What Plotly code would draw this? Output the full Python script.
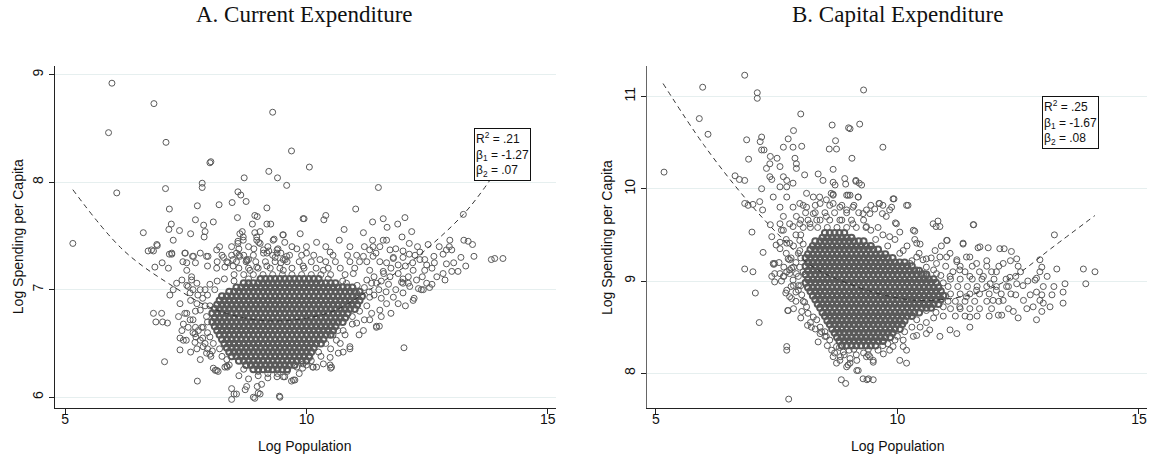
import plotly.graph_objects as go

# Panel A: scattered municipalities (log population, log current spending per capita)
obs_a = [
    (5.97, 8.92), (6.84, 8.73), (5.90, 8.46), (7.09, 8.37), (8.00, 8.18), (8.02, 8.19),
    (9.30, 8.65), (6.07, 7.90), (5.16, 7.43), (7.08, 7.94), (7.84, 7.99), (7.84, 7.95),
    (8.71, 8.04), (9.22, 8.10), (9.40, 8.04), (9.59, 7.97), (9.69, 8.29), (10.06, 8.14),
    (11.49, 7.95), (11.02, 7.75), (7.16, 7.75), (7.74, 7.78), (8.19, 7.79), (8.46, 7.81),
    (8.75, 7.82), (8.58, 7.91), (8.64, 7.88), (9.18, 7.76), (8.57, 7.67), (7.70, 7.65),
    (8.07, 7.63), (7.20, 7.61), (7.15, 7.56), (6.62, 7.53), (7.87, 7.60), (7.90, 7.54),
    (7.88, 7.49), (7.37, 7.55), (7.60, 7.52), (7.24, 7.46), (8.93, 7.69), (8.98, 7.68),
    (8.88, 7.61), (8.93, 7.53), (9.04, 7.54), (8.67, 7.54), (8.69, 7.49), (8.58, 7.45),
    (8.58, 7.43), (8.97, 7.46), (9.01, 7.44), (9.33, 7.47), (9.51, 7.51), (9.55, 7.44),
    (9.18, 7.61), (9.26, 7.61), (8.91, 7.38), (6.72, 7.36), (6.83, 7.36), (6.91, 7.41),
    (7.01, 7.25), (6.86, 7.21), (7.14, 7.20), (7.49, 7.34), (7.64, 7.31), (7.70, 7.25),
    (7.44, 7.26), (7.16, 7.33), (7.21, 7.33), (7.96, 7.31), (7.95, 7.22), (8.28, 7.30),
    (8.37, 7.25), (8.60, 7.38), (8.60, 7.32), (8.77, 7.27), (9.11, 7.37), (9.22, 7.36),
    (9.41, 7.38), (9.47, 7.34), (9.56, 7.28), (9.47, 7.25), (9.35, 7.30),
    (9.93, 7.66), (9.95, 7.66), (10.36, 7.65), (10.40, 7.69), (10.78, 7.56), (9.87, 7.52),
    (10.21, 7.44), (10.49, 7.35), (10.68, 7.46), (11.18, 7.53), (11.37, 7.63), (11.59, 7.66),
    (11.67, 7.58), (11.89, 7.61), (12.04, 7.67), (11.98, 7.49), (12.18, 7.54), (12.13, 7.43),
    (11.66, 7.46), (11.37, 7.46), (11.38, 7.40), (11.04, 7.32), (11.18, 7.31), (11.31, 7.37),
    (11.44, 7.34), (12.52, 7.42), (12.35, 7.35), (13.25, 7.70), (12.97, 7.46), (12.96, 7.40),
    (13.01, 7.37), (13.26, 7.46), (13.35, 7.45), (13.44, 7.42), (13.47, 7.31), (13.83, 7.28),
    (13.90, 7.29), (14.07, 7.29), (12.64, 7.31), (12.83, 7.33), (12.90, 7.37), (12.13, 7.33),
    (12.25, 7.32), (12.00, 7.30),
    (12.87, 7.09), (12.83, 7.15), (13.01, 7.17), (13.14, 7.17), (12.23, 6.92), (12.02, 6.46),
    (11.90, 6.87), (12.38, 7.00), (12.49, 7.06), (12.45, 7.18), (12.49, 7.23), (12.28, 7.09),
    (12.32, 7.01), (12.14, 7.03), (11.97, 7.07), (11.45, 6.66), (11.51, 6.66), (11.09, 6.58),
    (10.90, 6.45), (10.76, 6.42), (10.66, 6.41), (10.49, 6.30), (10.50, 6.27), (10.21, 6.28),
    (10.13, 6.28), (9.92, 6.27), (9.76, 6.16), (9.69, 6.15), (9.55, 6.19), (9.45, 6.00),
    (8.45, 5.98), (8.50, 6.03), (8.45, 6.08), (8.76, 6.10), (8.73, 6.07), (8.93, 5.99),
    (9.04, 6.03), (8.98, 6.10), (9.07, 6.12), (7.74, 6.15), (7.06, 6.33), (7.80, 6.35),
    (8.02, 6.38), (8.00, 6.40), (8.11, 6.25), (8.17, 6.24), (8.31, 6.28), (8.36, 6.28),
    (6.83, 6.78), (7.00, 6.78), (6.88, 6.70), (7.02, 6.70), (7.12, 6.69), (7.38, 6.44),
    (7.51, 6.53), (7.42, 6.62), (7.45, 6.68), (7.35, 6.75), (7.52, 6.78), (7.69, 6.51),
    (7.71, 6.56), (7.76, 6.62), (7.83, 6.65), (7.73, 6.45), (7.17, 6.95), (7.24, 7.00),
    (7.31, 7.06), (7.42, 7.09), (7.55, 7.03), (7.62, 7.09),
    (7.38, 6.87), (7.48, 6.78), (7.59, 6.72), (7.38, 6.55), (7.45, 6.53), (7.69, 6.59),
    (7.80, 6.53), (7.86, 6.47), (7.93, 6.41), (8.07, 6.27), (8.14, 6.25), (8.35, 6.29),
    (8.55, 6.03), (8.90, 6.00), (9.00, 6.04), (9.44, 6.01),
    (6.79, 7.37), (7.52, 7.25), (7.66, 7.31), (7.80, 7.34), (8.14, 7.20), (8.31, 7.21),
    (8.48, 7.28), (8.62, 7.31), (8.80, 7.28), (8.97, 7.21), (9.18, 7.34), (9.39, 7.34),
    (9.52, 7.28), (7.52, 7.18), (7.62, 7.12), (7.73, 7.06), (7.80, 7.00), (7.52, 7.04),
    (7.59, 6.97), (7.73, 6.87), (7.80, 6.81), (7.93, 6.75), (7.86, 6.65), (8.00, 6.56),
    (8.07, 6.50), (6.90, 7.42), (7.21, 7.34), (7.48, 7.34), (7.93, 7.31), (8.14, 7.37),
    (8.62, 7.52), (8.69, 7.46), (8.97, 7.49), (9.04, 7.43), (9.31, 7.46), (9.52, 7.51),
    (11.59, 7.46), (11.52, 7.40), (11.73, 7.37),
    (8.55, 7.34), (8.76, 7.28), (9.11, 7.34), (9.39, 7.37), (9.59, 7.31), (9.80, 7.38),
    (10.00, 7.34), (10.28, 7.28), (9.18, 7.22), (9.52, 7.18), (9.93, 7.22), (10.35, 7.18),
    (8.83, 7.18), (8.48, 7.22),
    (11.04, 6.69), (11.18, 6.62), (11.31, 6.72), (11.45, 6.65), (11.52, 6.81), (11.66, 6.87),
    (10.76, 6.62), (10.62, 6.53), (10.90, 6.47), (10.49, 6.37), (10.35, 6.31), (10.52, 6.28),
    (10.14, 6.28), (10.07, 6.37), (9.93, 6.31), (9.73, 6.16), (9.52, 6.19), (9.39, 6.19),
    (11.25, 7.26), (11.38, 7.31), (11.52, 7.26), (11.66, 7.25), (11.80, 7.29), (11.90, 7.23),
    (11.31, 7.18), (11.59, 7.17), (11.73, 7.12), (11.25, 7.09), (11.45, 7.06), (10.97, 7.15),
    (10.83, 7.06), (11.04, 6.97), (11.31, 6.93),
    (12.00, 7.06), (12.11, 7.12), (12.21, 7.18), (12.11, 7.06), (12.00, 6.97), (12.21, 6.90),
    (12.42, 7.00),
    (8.50, 7.14), (8.70, 7.14), (8.90, 7.14), (9.10, 7.14), (9.30, 7.14), (9.50, 7.14),
    (9.70, 7.14), (9.90, 7.14), (10.10, 7.14), (10.30, 7.14), (10.50, 7.14), (10.80, 7.14),
    (8.60, 7.20), (8.80, 7.20), (9.00, 7.20), (9.25, 7.20), (9.45, 7.20), (9.70, 7.20),
    (9.95, 7.20), (10.20, 7.20), (10.45, 7.20), (10.70, 7.20), (11.00, 7.20),
    (11.60, 7.15), (11.75, 7.20), (11.90, 7.15), (12.05, 7.22), (11.70, 7.05), (11.85, 7.00),
    (12.00, 7.10), (12.20, 7.25), (12.35, 7.28), (11.80, 7.30), (12.60, 7.20), (12.70, 7.12),
    (12.55, 7.02),
    (7.60, 6.90), (7.70, 6.80), (7.90, 6.85), (7.95, 6.70), (7.85, 6.55), (7.95, 6.45),
    (7.65, 6.60), (7.90, 7.00), (7.75, 6.95),
    (8.60, 6.20), (8.80, 6.17), (9.00, 6.20), (9.20, 6.18), (9.40, 6.22), (9.60, 6.24),
    (9.80, 6.28), (8.40, 6.30), (10.00, 6.30), (10.30, 6.38), (10.50, 6.45),
    (11.10, 6.80), (11.25, 6.85), (11.35, 6.78), (11.20, 6.72), (10.95, 6.68), (10.80, 6.58),
    (10.70, 6.50), (11.40, 6.95), (11.55, 6.92),
    (8.15, 7.26), (8.35, 7.26), (8.55, 7.26), (8.75, 7.26), (8.95, 7.26), (9.15, 7.26),
    (9.35, 7.26), (9.60, 7.26), (9.85, 7.26), (10.10, 7.26), (10.40, 7.26), (10.60, 7.26),
    (10.90, 7.26), (11.10, 7.26), (8.25, 7.32), (8.45, 7.32), (8.70, 7.32), (8.90, 7.32),
    (9.30, 7.32), (9.65, 7.32), (9.90, 7.32), (10.15, 7.32), (10.55, 7.32), (10.85, 7.32),
    (8.20, 7.40), (8.45, 7.40), (8.80, 7.40), (9.20, 7.40), (9.70, 7.40), (10.00, 7.40),
    (10.40, 7.40), (10.90, 7.40), (11.20, 7.40),
    (11.85, 7.38), (12.00, 7.36), (12.30, 7.40), (12.45, 7.28), (12.65, 7.25), (12.75, 7.40),
    (13.05, 7.25), (13.20, 7.30), (13.30, 7.22), (12.90, 7.24), (12.60, 7.05), (12.40, 7.12),
    (11.65, 6.98), (11.80, 6.93), (12.05, 6.85), (11.55, 6.75), (11.75, 6.78),
    (7.65, 6.72), (7.70, 6.65), (7.85, 6.92), (7.95, 6.95), (8.00, 7.05), (8.10, 7.00),
    (8.15, 7.08), (8.30, 7.10), (7.95, 6.60), (8.00, 6.85), (7.90, 6.50), (8.05, 6.43),
    (8.20, 6.45), (8.25, 6.38), (8.35, 6.35), (7.60, 6.42), (7.55, 6.65), (7.65, 7.00),
    (9.20, 6.22), (9.00, 6.24), (8.70, 6.26), (9.85, 6.22), (10.10, 6.34), (10.25, 6.42),
    (10.40, 6.50), (10.55, 6.58), (10.65, 6.62), (10.75, 6.70), (10.95, 6.75),
    (11.20, 7.02), (11.35, 7.06), (11.50, 7.00), (11.30, 6.98), (11.15, 6.94), (11.40, 7.12),
    (11.55, 7.08), (8.50, 7.08), (8.80, 7.10), (10.45, 7.10), (10.75, 7.08), (11.05, 7.04),
]

# Panel A: the solid centre of the cloud, one list of log population per spending row
core_a_y = [6.26, 6.30, 6.34, 6.38, 6.42, 6.46, 6.50, 6.54, 6.58, 6.62, 6.66,
            6.70, 6.74, 6.78, 6.82, 6.86, 6.90, 6.94, 6.98, 7.02, 7.06, 7.10]
core_a_x = [
    [8.9, 9.0, 9.1, 9.2, 9.3, 9.4, 9.5, 9.6],
    [8.75, 8.85, 8.95, 9.05, 9.15, 9.25, 9.35, 9.45, 9.55, 9.65, 9.75],
    [8.6, 8.7, 8.8, 8.9, 9.0, 9.1, 9.2, 9.3, 9.4, 9.5, 9.6, 9.7, 9.8, 9.9, 10.0],
    [8.45, 8.55, 8.65, 8.75, 8.85, 8.95, 9.05, 9.15, 9.25, 9.35, 9.45, 9.55, 9.65, 9.75,
     9.85, 9.95, 10.05],
    [8.4, 8.5, 8.6, 8.7, 8.8, 8.9, 9.0, 9.1, 9.2, 9.3, 9.4, 9.5, 9.6, 9.7, 9.8, 9.9, 10.0,
     10.1],
    [8.35, 8.45, 8.55, 8.65, 8.75, 8.85, 8.95, 9.05, 9.15, 9.25, 9.35, 9.45, 9.55, 9.65,
     9.75, 9.85, 9.95, 10.05, 10.15],
    [8.3, 8.4, 8.5, 8.6, 8.7, 8.8, 8.9, 9.0, 9.1, 9.2, 9.3, 9.4, 9.5, 9.6, 9.7, 9.8, 9.9,
     10.0, 10.1, 10.2, 10.3],
    [8.25, 8.35, 8.45, 8.55, 8.65, 8.75, 8.85, 8.95, 9.05, 9.15, 9.25, 9.35, 9.45,
     9.55, 9.65, 9.75, 9.85, 9.95, 10.05, 10.15, 10.25, 10.35],
    [8.2, 8.3, 8.4, 8.5, 8.6, 8.7, 8.8, 8.9, 9.0, 9.1, 9.2, 9.3, 9.4, 9.5, 9.6, 9.7,
     9.8, 9.9, 10.0, 10.1, 10.2, 10.3, 10.4, 10.5],
    [8.15, 8.25, 8.35, 8.45, 8.55, 8.65, 8.75, 8.85, 8.95, 9.05, 9.15, 9.25, 9.35,
     9.45, 9.55, 9.65, 9.75, 9.85, 9.95, 10.05, 10.15, 10.25, 10.35, 10.45, 10.55],
    [8.1, 8.2, 8.3, 8.4, 8.5, 8.6, 8.7, 8.8, 8.9, 9.0, 9.1, 9.2, 9.3, 9.4, 9.5, 9.6, 9.7,
     9.8, 9.9, 10.0, 10.1, 10.2, 10.3, 10.4, 10.5, 10.6],
    [8.05, 8.15, 8.25, 8.35, 8.45, 8.55, 8.65, 8.75, 8.85, 8.95, 9.05, 9.15, 9.25, 9.35,
     9.45, 9.55, 9.65, 9.75, 9.85, 9.95, 10.05, 10.15, 10.25, 10.35, 10.45, 10.55, 10.65,
     10.75],
    [8.1, 8.2, 8.3, 8.4, 8.5, 8.6, 8.7, 8.8, 8.9, 9.0, 9.1, 9.2, 9.3, 9.4, 9.5, 9.6, 9.7,
     9.8, 9.9, 10.0, 10.1, 10.2, 10.3, 10.4, 10.5, 10.6, 10.7, 10.8],
    [8.05, 8.15, 8.25, 8.35, 8.45, 8.55, 8.65, 8.75, 8.85, 8.95, 9.05, 9.15, 9.25, 9.35,
     9.45, 9.55, 9.65, 9.75, 9.85, 9.95, 10.05, 10.15, 10.25, 10.35, 10.45, 10.55, 10.65,
     10.75, 10.85],
    [8.1, 8.2, 8.3, 8.4, 8.5, 8.6, 8.7, 8.8, 8.9, 9.0, 9.1, 9.2, 9.3, 9.4, 9.5, 9.6, 9.7,
     9.8, 9.9, 10.0, 10.1, 10.2, 10.3, 10.4, 10.5, 10.6, 10.7, 10.8, 10.9, 11.0],
    [8.15, 8.25, 8.35, 8.45, 8.55, 8.65, 8.75, 8.85, 8.95, 9.05, 9.15, 9.25, 9.35, 9.45,
     9.55, 9.65, 9.75, 9.85, 9.95, 10.05, 10.15, 10.25, 10.35, 10.45, 10.55, 10.65, 10.75,
     10.85, 10.95, 11.05],
    [8.2, 8.3, 8.4, 8.5, 8.6, 8.7, 8.8, 8.9, 9.0, 9.1, 9.2, 9.3, 9.4, 9.5, 9.6, 9.7, 9.8,
     9.9, 10.0, 10.1, 10.2, 10.3, 10.4, 10.5, 10.6, 10.7, 10.8, 10.9, 11.0, 11.1],
    [8.25, 8.35, 8.45, 8.55, 8.65, 8.75, 8.85, 8.95, 9.05, 9.15, 9.25, 9.35, 9.45, 9.55,
     9.65, 9.75, 9.85, 9.95, 10.05, 10.15, 10.25, 10.35, 10.45, 10.55, 10.65, 10.75, 10.85,
     10.95, 11.05, 11.15],
    [8.4, 8.5, 8.6, 8.7, 8.8, 8.9, 9.0, 9.1, 9.2, 9.3, 9.4, 9.5, 9.6, 9.7, 9.8, 9.9, 10.0,
     10.1, 10.2, 10.3, 10.4, 10.5, 10.6, 10.7, 10.8, 10.9, 11.0, 11.1],
    [8.55, 8.65, 8.75, 8.85, 8.95, 9.05, 9.15, 9.25, 9.35, 9.45, 9.55, 9.65, 9.75,
     9.85, 9.95, 10.05, 10.15, 10.25, 10.35, 10.45, 10.55, 10.65, 10.75, 10.85, 10.95],
    [8.7, 8.8, 8.9, 9.0, 9.1, 9.2, 9.3, 9.4, 9.5, 9.6, 9.7, 9.8, 9.9, 10.0, 10.1,
     10.2, 10.3, 10.4, 10.5, 10.6],
    [9.05, 9.15, 9.25, 9.35, 9.45, 9.55, 9.65, 9.75, 9.85, 9.95, 10.05, 10.15, 10.25],
]

# Panel B: scattered municipalities (log population, log capital spending per capita)
obs_b = [
    (6.84, 11.23), (5.97, 11.10), (7.10, 11.04), (7.10, 10.98), (5.90, 10.76), (6.08, 10.59),
    (5.17, 10.18), (8.00, 10.81), (8.65, 10.69), (8.99, 10.66), (9.22, 10.70), (9.30, 11.07),
    (7.85, 10.63), (6.88, 10.53), (7.19, 10.56), (7.16, 10.51), (7.74, 10.54), (7.64, 10.45),
    (7.84, 10.45), (8.02, 10.46), (8.72, 10.52), (8.74, 10.43), (8.59, 10.43), (7.19, 10.42),
    (7.24, 10.42), (6.92, 10.32), (7.37, 10.35), (7.51, 10.33), (7.88, 10.33), (7.91, 10.27),
    (7.91, 10.22), (7.57, 10.24), (7.36, 10.27), (7.29, 10.22), (9.06, 10.33), (8.67, 10.21),
    (8.08, 10.15), (6.64, 10.14), (6.73, 10.10), (6.84, 10.09), (7.36, 10.13), (7.40, 10.10),
    (7.64, 10.13), (7.71, 10.09), (7.57, 10.02), (7.71, 10.02), (7.84, 10.06), (7.19, 10.00),
    (8.36, 10.16), (8.46, 10.09), (8.67, 10.07), (8.71, 10.04), (8.91, 10.11), (8.93, 10.05),
    (9.14, 10.09), (9.26, 10.04), (8.67, 9.94), (8.63, 9.95), (8.98, 9.93), (9.19, 9.91),
    (6.91, 9.82), (7.01, 9.83), (7.15, 9.86), (7.21, 9.77), (6.99, 9.53), (7.22, 9.31),
    (6.84, 9.13), (7.01, 9.10), (7.37, 9.61), (7.57, 9.62), (7.64, 9.55), (7.84, 9.59),
    (7.98, 9.62), (8.19, 9.62), (8.33, 9.66), (8.26, 9.73), (8.12, 9.80), (7.40, 9.48),
    (7.57, 9.42), (7.77, 9.41), (7.98, 9.44), (7.46, 9.19), (7.74, 9.24), (7.71, 9.10),
    (7.81, 9.14), (7.91, 9.08), (7.57, 9.80), (7.71, 9.91), (7.84, 9.80), (7.98, 9.84),
    (7.43, 9.91), (7.64, 9.70), (7.91, 9.70), (7.77, 9.62), (8.26, 9.91), (8.40, 9.84),
    (8.53, 9.88), (8.67, 9.84), (8.81, 9.80), (8.95, 9.77), (9.08, 9.80), (9.29, 9.73),
    (8.53, 9.70), (8.81, 9.66), (9.08, 9.62), (9.36, 9.59),
    (9.02, 10.65), (9.70, 10.45), (9.14, 10.08), (9.21, 10.06), (9.02, 9.93), (9.93, 9.89),
    (9.88, 9.80), (9.84, 9.77), (10.22, 9.82), (9.62, 9.84), (9.53, 9.78), (9.43, 9.73),
    (9.69, 9.73), (9.96, 9.63), (10.84, 9.65), (10.80, 9.59), (11.58, 9.61), (10.36, 9.54),
    (10.36, 9.45), (10.47, 9.40), (11.03, 9.44), (10.91, 9.38), (11.36, 9.40), (11.67, 9.36),
    (11.88, 9.36), (12.12, 9.35), (12.21, 9.35), (12.36, 9.32), (13.25, 9.50), (12.95, 9.23),
    (12.99, 9.15), (12.95, 9.10), (13.30, 9.13), (13.85, 9.13), (14.09, 9.10), (11.85, 9.22),
    (12.19, 9.19), (12.34, 9.22), (12.50, 9.16), (10.78, 9.33), (10.88, 9.26), (11.09, 9.30),
    (11.23, 9.23), (11.50, 9.26), (11.64, 9.19), (9.84, 9.48), (10.05, 9.53), (10.12, 9.33),
    (10.40, 9.26), (10.53, 9.23), (10.60, 9.15),
    (12.88, 9.03), (12.85, 9.01), (13.02, 8.94), (12.88, 8.88), (12.99, 8.85), (12.95, 8.79),
    (13.02, 8.76), (13.16, 8.72), (12.99, 8.67), (12.88, 8.58), (13.47, 8.97), (13.43, 8.88),
    (13.43, 8.76), (13.24, 8.94), (13.90, 8.97),
    (12.47, 9.24), (12.05, 9.10), (12.33, 9.04), (12.26, 8.94), (12.47, 8.97), (12.61, 8.79),
    (12.40, 8.67), (12.16, 8.63), (12.09, 8.63), (12.68, 8.70), (12.81, 8.72),
    (11.78, 9.05), (11.92, 8.97), (12.05, 8.90), (11.98, 8.79), (12.19, 8.79), (11.64, 8.90),
    (11.43, 8.83), (11.29, 8.72), (11.50, 8.61), (11.50, 8.50), (11.23, 8.43), (11.09, 8.47),
    (10.88, 8.40), (10.67, 8.47), (10.47, 8.50), (10.40, 8.41), (10.12, 8.36), (10.19, 8.25),
    (10.05, 8.14), (9.84, 8.25), (9.71, 8.21), (9.43, 8.18), (9.50, 8.12), (9.29, 7.94),
    (9.40, 7.94), (9.50, 7.93), (9.16, 8.03), (9.02, 8.11),
    (10.60, 9.24), (10.81, 9.19), (11.02, 9.26), (11.23, 9.21), (11.43, 9.26), (10.81, 9.08),
    (11.09, 9.05), (11.29, 9.12), (11.50, 9.05), (10.60, 9.05), (10.40, 9.12), (10.26, 9.19),
    (7.06, 8.87), (7.14, 8.55), (7.71, 8.29), (7.71, 8.25), (7.75, 7.72),
    (7.44, 9.18), (7.40, 9.05), (7.46, 8.99), (7.57, 9.08), (7.65, 9.05), (7.77, 9.08),
    (7.69, 8.87), (7.81, 8.81), (7.73, 8.68), (7.80, 8.94), (7.95, 9.05), (8.02, 8.85),
    (8.08, 8.77), (8.12, 8.72), (8.02, 8.67), (8.15, 8.65), (8.14, 8.52), (8.22, 8.50),
    (8.26, 8.61), (8.33, 8.58), (8.36, 8.34), (8.43, 8.45), (8.50, 8.40), (8.53, 8.40),
    (8.64, 8.25), (8.67, 8.18), (8.74, 8.11), (8.82, 8.18), (8.84, 7.93), (8.93, 7.89),
    (9.02, 8.16), (9.16, 8.14), (9.19, 8.03), (9.37, 7.93), (9.40, 8.20), (8.74, 8.29),
    (8.88, 8.23), (8.98, 8.09),
    (6.84, 9.84), (7.43, 9.19), (7.46, 9.08), (7.64, 9.05), (7.49, 9.39), (7.57, 9.35),
    (7.71, 9.41), (7.77, 9.23), (7.77, 9.12), (7.84, 9.01), (7.71, 8.90), (7.77, 8.83),
    (7.74, 8.68), (7.95, 8.90), (7.98, 9.15), (7.98, 9.33),
    (8.40, 8.43), (8.60, 8.36), (8.81, 8.14), (8.95, 8.07), (9.36, 8.18), (9.50, 8.14),
    (10.19, 8.11), (10.12, 8.29), (9.91, 8.29), (10.33, 8.40), (10.60, 8.43),
    (8.12, 9.95), (8.39, 9.91), (8.67, 9.93), (8.95, 9.93), (9.19, 9.91), (9.63, 9.84),
    (9.91, 9.89), (10.19, 9.82), (9.36, 9.77), (9.77, 9.70), (9.98, 9.62), (10.33, 9.55),
    (10.40, 9.41), (10.74, 9.62), (10.88, 9.59), (11.02, 9.44), (11.36, 9.41), (11.57, 9.61),
    (11.71, 9.37),
    (11.10, 8.70), (11.30, 8.70), (11.50, 8.70), (11.70, 8.70), (11.95, 8.70),
    (11.05, 8.78), (11.20, 8.78), (11.40, 8.78), (11.60, 8.78), (11.85, 8.78), (12.10, 8.78),
    (11.10, 8.86), (11.30, 8.86), (11.50, 8.86), (11.70, 8.86), (11.90, 8.86), (12.15, 8.86),
    (12.35, 8.86), (11.05, 8.94), (11.25, 8.94), (11.45, 8.94), (11.65, 8.94), (11.85, 8.94),
    (12.05, 8.94), (12.30, 8.94), (11.10, 9.02), (11.30, 9.02), (11.55, 9.02), (11.75, 9.02),
    (12.00, 9.02), (12.25, 9.02), (11.15, 9.10), (11.40, 9.10), (11.70, 9.10), (11.95, 9.10),
    (8.05, 9.58), (8.20, 9.58), (8.35, 9.58), (8.55, 9.58), (8.75, 9.58), (8.95, 9.58),
    (9.15, 9.58), (9.35, 9.58), (9.60, 9.58), (8.00, 9.66), (8.15, 9.66), (8.40, 9.66),
    (8.60, 9.66), (8.85, 9.66), (9.05, 9.66), (9.30, 9.66), (8.10, 9.74), (8.30, 9.74),
    (8.50, 9.74), (8.70, 9.74), (8.95, 9.74), (9.20, 9.74),
    (7.90, 9.50), (7.95, 9.30), (7.85, 9.15), (7.95, 8.95), (7.90, 8.78), (8.00, 8.60),
    (7.70, 9.30), (7.60, 9.00), (7.55, 9.20),
    (9.00, 8.25), (9.30, 8.22), (9.60, 8.25), (9.80, 8.32), (10.00, 8.40), (10.30, 8.50),
    (10.60, 8.55), (8.80, 8.28), (9.15, 8.20),
    (8.05, 9.82), (8.30, 9.82), (8.60, 9.82), (8.85, 9.82), (9.10, 9.82), (9.45, 9.82),
    (9.70, 9.82), (9.45, 9.55), (9.70, 9.50), (9.95, 9.45), (10.20, 9.38), (10.45, 9.30),
    (10.70, 9.25), (9.55, 9.45), (9.80, 9.38), (10.05, 9.30), (10.30, 9.22),
    (7.60, 9.55), (7.70, 9.45), (7.85, 9.38), (7.65, 9.15), (7.80, 9.25), (7.90, 9.20),
    (7.85, 8.95), (7.90, 8.88), (8.00, 8.95), (8.05, 9.10), (8.00, 9.25), (8.05, 9.40),
    (8.00, 9.50), (7.85, 8.70), (8.05, 8.78), (8.20, 8.55), (8.30, 8.48), (8.40, 8.50),
    (8.50, 8.45),
    (11.20, 8.62), (11.40, 8.62), (11.65, 8.62), (11.90, 8.62), (11.00, 9.16), (11.30, 9.16),
    (11.55, 9.16), (11.85, 9.16), (12.10, 9.16), (12.45, 9.05), (12.60, 8.95), (12.75, 8.85),
    (12.55, 9.10), (12.70, 9.00), (13.10, 9.05), (13.20, 8.85), (12.45, 8.85), (12.30, 8.70),
    (12.50, 8.60),
    (8.55, 8.30), (8.70, 8.22), (8.90, 8.20), (9.10, 8.26), (9.40, 8.26), (9.70, 8.30),
    (9.95, 8.36), (10.15, 8.45), (10.40, 8.58), (10.75, 8.60), (10.95, 8.62),
    (10.95, 8.72), (11.00, 8.84), (10.95, 8.98), (10.90, 9.06), (10.75, 9.12), (10.60, 8.68),
    (10.80, 8.66), (10.55, 9.08),
]

# Panel B: the solid centre of the cloud, one list of log population per spending row
core_b_y = [8.30, 8.35, 8.39, 8.44, 8.48, 8.53, 8.57, 8.62, 8.66, 8.71, 8.75, 8.80, 8.84,
            8.89, 8.93, 8.98, 9.02, 9.07, 9.11, 9.16, 9.20, 9.25, 9.29, 9.34, 9.38, 9.43,
            9.47, 9.52]
core_b_x = [
    [8.85, 8.95, 9.05, 9.15, 9.25, 9.35, 9.45, 9.55],
    [8.8, 8.9, 9.0, 9.1, 9.2, 9.3, 9.4, 9.5, 9.6, 9.7],
    [8.75, 8.85, 8.95, 9.05, 9.15, 9.25, 9.35, 9.45, 9.55, 9.65, 9.75, 9.85],
    [8.7, 8.8, 8.9, 9.0, 9.1, 9.2, 9.3, 9.4, 9.5, 9.6, 9.7, 9.8, 9.9],
    [8.65, 8.75, 8.85, 8.95, 9.05, 9.15, 9.25, 9.35, 9.45, 9.55, 9.65, 9.75, 9.85, 9.95,
     10.05],
    [8.6, 8.7, 8.8, 8.9, 9.0, 9.1, 9.2, 9.3, 9.4, 9.5, 9.6, 9.7, 9.8, 9.9, 10.0, 10.1],
    [8.55, 8.65, 8.75, 8.85, 8.95, 9.05, 9.15, 9.25, 9.35, 9.45, 9.55, 9.65, 9.75, 9.85,
     9.95, 10.05, 10.15],
    [8.5, 8.6, 8.7, 8.8, 8.9, 9.0, 9.1, 9.2, 9.3, 9.4, 9.5, 9.6, 9.7, 9.8, 9.9, 10.0, 10.1,
     10.2, 10.3],
    [8.45, 8.55, 8.65, 8.75, 8.85, 8.95, 9.05, 9.15, 9.25, 9.35, 9.45, 9.55, 9.65, 9.75,
     9.85, 9.95, 10.05, 10.15, 10.25, 10.35, 10.45],
    [8.4, 8.5, 8.6, 8.7, 8.8, 8.9, 9.0, 9.1, 9.2, 9.3, 9.4, 9.5, 9.6, 9.7, 9.8, 9.9, 10.0,
     10.1, 10.2, 10.3, 10.4, 10.5, 10.6, 10.7],
    [8.35, 8.45, 8.55, 8.65, 8.75, 8.85, 8.95, 9.05, 9.15, 9.25, 9.35, 9.45, 9.55, 9.65,
     9.75, 9.85, 9.95, 10.05, 10.15, 10.25, 10.35, 10.45, 10.55, 10.65, 10.75, 10.85],
    [8.3, 8.4, 8.5, 8.6, 8.7, 8.8, 8.9, 9.0, 9.1, 9.2, 9.3, 9.4, 9.5, 9.6, 9.7, 9.8, 9.9,
     10.0, 10.1, 10.2, 10.3, 10.4, 10.5, 10.6, 10.7, 10.8, 10.9],
    [8.25, 8.35, 8.45, 8.55, 8.65, 8.75, 8.85, 8.95, 9.05, 9.15, 9.25, 9.35, 9.45, 9.55,
     9.65, 9.75, 9.85, 9.95, 10.05, 10.15, 10.25, 10.35, 10.45, 10.55, 10.65, 10.75, 10.85,
     10.95],
    [8.2, 8.3, 8.4, 8.5, 8.6, 8.7, 8.8, 8.9, 9.0, 9.1, 9.2, 9.3, 9.4, 9.5, 9.6, 9.7, 9.8,
     9.9, 10.0, 10.1, 10.2, 10.3, 10.4, 10.5, 10.6, 10.7, 10.8, 10.9],
    [8.15, 8.25, 8.35, 8.45, 8.55, 8.65, 8.75, 8.85, 8.95, 9.05, 9.15, 9.25, 9.35, 9.45,
     9.55, 9.65, 9.75, 9.85, 9.95, 10.05, 10.15, 10.25, 10.35, 10.45, 10.55, 10.65, 10.75,
     10.85],
    [8.1, 8.2, 8.3, 8.4, 8.5, 8.6, 8.7, 8.8, 8.9, 9.0, 9.1, 9.2, 9.3, 9.4, 9.5, 9.6, 9.7,
     9.8, 9.9, 10.0, 10.1, 10.2, 10.3, 10.4, 10.5, 10.6, 10.7, 10.8],
    [8.15, 8.25, 8.35, 8.45, 8.55, 8.65, 8.75, 8.85, 8.95, 9.05, 9.15, 9.25, 9.35, 9.45,
     9.55, 9.65, 9.75, 9.85, 9.95, 10.05, 10.15, 10.25, 10.35, 10.45, 10.55, 10.65, 10.75],
    [8.1, 8.2, 8.3, 8.4, 8.5, 8.6, 8.7, 8.8, 8.9, 9.0, 9.1, 9.2, 9.3, 9.4, 9.5, 9.6, 9.7,
     9.8, 9.9, 10.0, 10.1, 10.2, 10.3, 10.4, 10.5, 10.6],
    [8.15, 8.25, 8.35, 8.45, 8.55, 8.65, 8.75, 8.85, 8.95, 9.05, 9.15, 9.25, 9.35, 9.45,
     9.55, 9.65, 9.75, 9.85, 9.95, 10.05, 10.15, 10.25, 10.35, 10.45],
    [8.1, 8.2, 8.3, 8.4, 8.5, 8.6, 8.7, 8.8, 8.9, 9.0, 9.1, 9.2, 9.3, 9.4, 9.5, 9.6, 9.7,
     9.8, 9.9, 10.0, 10.1, 10.2, 10.3],
    [8.15, 8.25, 8.35, 8.45, 8.55, 8.65, 8.75, 8.85, 8.95, 9.05, 9.15, 9.25, 9.35, 9.45,
     9.55, 9.65, 9.75, 9.85, 9.95, 10.05, 10.15],
    [8.1, 8.2, 8.3, 8.4, 8.5, 8.6, 8.7, 8.8, 8.9, 9.0, 9.1, 9.2, 9.3, 9.4, 9.5, 9.6, 9.7,
     9.8, 9.9],
    [8.15, 8.25, 8.35, 8.45, 8.55, 8.65, 8.75, 8.85, 8.95, 9.05, 9.15, 9.25, 9.35, 9.45,
     9.55, 9.65, 9.75],
    [8.2, 8.3, 8.4, 8.5, 8.6, 8.7, 8.8, 8.9, 9.0, 9.1, 9.2, 9.3, 9.4, 9.5, 9.6],
    [8.25, 8.35, 8.45, 8.55, 8.65, 8.75, 8.85, 8.95, 9.05, 9.15, 9.25, 9.35, 9.45],
    [8.3, 8.4, 8.5, 8.6, 8.7, 8.8, 8.9, 9.0, 9.1, 9.2, 9.3],
    [8.45, 8.55, 8.65, 8.75, 8.85, 8.95, 9.05],
    [8.5, 8.6, 8.7, 8.8, 8.9],
]

# Quadratic fits as drawn (dashed)
fit_a_x = [5.16, 6.2, 7.24, 8.14, 9.24, 10.49, 11.31, 12.14, 13.25, 13.85]
fit_a_y = [7.93, 7.37, 7.03, 6.81, 6.71, 6.79, 7.00, 7.25, 7.70, 8.05]
fit_b_x = [5.15, 6.0, 6.88, 7.6, 8.26, 9.0, 9.7, 10.4, 11.1, 11.78, 12.47, 13.2, 14.09]
fit_b_y = [11.14, 10.47, 9.88, 9.47, 9.15, 8.97, 8.85, 8.79, 8.81, 8.89, 9.07, 9.36, 9.71]

stats_a = ["R<sup>2</sup> = .21", "β<sub>1</sub> = -1.27", "β<sub>2</sub> = .07"]
stats_b = ["R<sup>2</sup> = .25", "β<sub>1</sub> = -1.67", "β<sub>2</sub> = .08"]

titles = ["A. Current Expenditure", "B. Capital Expenditure"]


def split(obs):
    return [p[0] for p in obs], [p[1] for p in obs]


def rows(rows_y, rows_x):
    xs, ys = [], []
    for y, row in zip(rows_y, rows_x):
        xs += row
        ys += [y] * len(row)
    return xs, ys


MARK = '#5a5a5a'
SANS = 'Liberation Sans, Arial, sans-serif'

fig = go.Figure()
panels = [('x', 'y', obs_a, core_a_y, core_a_x, fit_a_x, fit_a_y),
          ('x2', 'y2', obs_b, core_b_y, core_b_x, fit_b_x, fit_b_y)]
for xa, ya, obs, cy, cx, fx, fy in panels:
    px, py = split(obs)
    qx, qy = rows(cy, cx)
    # packed centre: heavier outline so overlapping rings read as a solid mass
    fig.add_trace(go.Scatter(x=qx, y=qy, mode='markers', xaxis=xa, yaxis=ya,
                             marker=dict(symbol='circle-open', size=6, color=MARK,
                                         line=dict(width=2.0, color=MARK))))
    fig.add_trace(go.Scatter(x=px, y=py, mode='markers', xaxis=xa, yaxis=ya,
                             marker=dict(symbol='circle-open', size=6, color=MARK,
                                         line=dict(width=1, color=MARK))))
    fig.add_trace(go.Scatter(x=fx, y=fy, mode='lines', xaxis=xa, yaxis=ya,
                             line=dict(color='#333333', width=1, dash='5px,4px',
                                       shape='spline')))

xax = dict(showgrid=False, zeroline=False, showline=True, linecolor='#222', linewidth=1,
           ticks='outside', ticklen=5, tickcolor='#222', tick0=5, dtick=5,
           ticklabelstandoff=-7, tickfont=dict(family=SANS, size=14, color='#111'))
yax = dict(showgrid=True, gridcolor='#e6efef', gridwidth=1, zeroline=False, showline=True,
           linecolor='#222', linewidth=1, ticks='outside', ticklen=5, tickcolor='#222',
           dtick=1, tickangle=-90, tickfont=dict(family=SANS, size=14, color='#111'))

fig.update_layout(
    width=1150, height=456, showlegend=False,
    paper_bgcolor='white', plot_bgcolor='white',
    margin=dict(l=0, r=0, t=0, b=0),
    xaxis=dict(xax, domain=[0.0478, 0.4835], range=[4.79, 15.17]),
    yaxis=dict(yax, domain=[0.1053, 0.8553], range=[5.90, 9.08]),
    xaxis2=dict(xax, domain=[0.5623, 0.9971], range=[4.81, 15.16], anchor='y2'),
    yaxis2=dict(yax, domain=[0.1053, 0.8553], range=[7.624, 11.33], anchor='x2',
                linecolor='#666'),
)

ann = []
for xc, t in zip([0.265, 0.78], titles):
    ann.append(dict(text=t, x=xc, y=0.969, xref='paper', yref='paper', showarrow=False,
                    xanchor='center', yanchor='middle',
                    font=dict(family='Liberation Serif, serif', size=23, color='#111')))
for xc in [0.2652, 0.78]:
    ann.append(dict(text='Log Population', x=xc, y=0.022, xref='paper', yref='paper',
                    showarrow=False, xanchor='center', yanchor='middle',
                    font=dict(family=SANS, size=14, color='#111')))
for xc in [0.0157, 0.5278]:
    ann.append(dict(text='Log Spending per Capita', x=xc, y=0.48, xref='paper', yref='paper',
                    showarrow=False, textangle=-90, xanchor='center', yanchor='middle',
                    font=dict(family=SANS, size=14, color='#111')))
for ax, (bx, by), stats in [('', (13.47, 8.50), stats_a), ('2', (12.99, 11.0), stats_b)]:
    ann.append(dict(text='<br>'.join(stats), x=bx, y=by, xref='x' + ax, yref='y' + ax,
                    showarrow=False, xanchor='left', yanchor='top', align='left',
                    bgcolor='white', bordercolor='#111', borderwidth=1, borderpad=1,
                    font=dict(family=SANS, size=12, color='#111')))
fig.update_layout(annotations=ann)

# the page's default body margin would push the 1150x456 figure off-window
fig.write_html("out.html", config={'displayModeBar': False},
               post_script="document.body.style.margin='0';")
